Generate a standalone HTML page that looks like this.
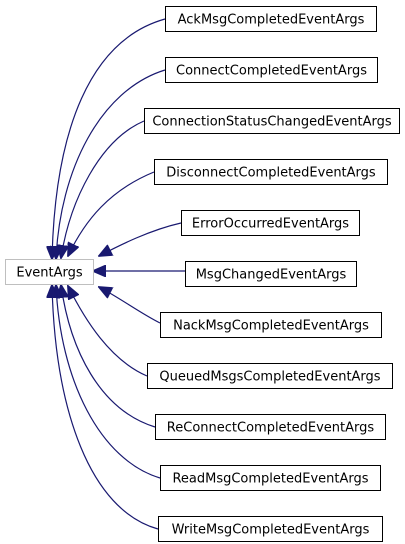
<!DOCTYPE html>
<html><head><style>
body{margin:0;background:#fff;}
svg{display:block}
text{font-family:"DejaVu Sans","Liberation Sans",sans-serif;font-size:13px;fill:#000}
</style></head><body>
<svg width="405" height="544" viewBox="0 0 405 544" xmlns="http://www.w3.org/2000/svg">
<defs>
<marker id="a" markerWidth="14" markerHeight="12" refX="13" refY="6" orient="auto" markerUnits="userSpaceOnUse">
<polygon points="0,0 14,6 0,12" fill="#191970" stroke="#191970"/>
</marker>
</defs>
<g fill="none" stroke="#191970" stroke-width="1.2" marker-end="url(#a)">
<path d="M165,19 C90,40 55,130 52,259"/>
<path d="M165,70 C100,90 60,170 56,259"/>
<path d="M144,121 C100,140 70,200 61,258"/>
<path d="M154,172 C110,190 85,220 68,256"/>
<path d="M181,223 C150,230 120,245 99,256"/>
<path d="M185,271 L93,271"/>
<path d="M160,323 C140,313 120,298 99,287"/>
<path d="M147,376 C110,360 85,320 68,286"/>
<path d="M155,427 C100,410 70,350 61,285"/>
<path d="M160,478 C100,460 60,380 56,285"/>
<path d="M158,529 C90,510 55,410 52,285"/>
</g>
<rect x="5.5" y="259.5" width="88" height="25" fill="#fff" stroke="#bfbfbf"/>
<text x="49.5" y="276.5" text-anchor="middle">EventArgs</text>
<g fill="#fff" stroke="#000">
<rect x="165.5" y="6.5" width="211" height="25"/>
<rect x="165.5" y="57.5" width="212" height="25"/>
<rect x="144.5" y="108.5" width="255" height="25"/>
<rect x="154.5" y="159.5" width="233" height="25"/>
<rect x="181.5" y="210.5" width="178" height="25"/>
<rect x="185.5" y="261.5" width="171" height="25"/>
<rect x="160.5" y="312.5" width="221" height="25"/>
<rect x="147.5" y="363.5" width="245" height="25"/>
<rect x="155.5" y="414.5" width="230" height="25"/>
<rect x="160.5" y="465.5" width="220" height="25"/>
<rect x="158.5" y="516.5" width="224" height="25"/>
</g>
<g text-anchor="middle">
<text x="271" y="23.5">AckMsgCompletedEventArgs</text>
<text x="271.5" y="74.5">ConnectCompletedEventArgs</text>
<text x="272" y="125.5">ConnectionStatusChangedEventArgs</text>
<text x="271" y="176.5">DisconnectCompletedEventArgs</text>
<text x="270.5" y="227.5">ErrorOccurredEventArgs</text>
<text x="271" y="278.5">MsgChangedEventArgs</text>
<text x="271" y="329.5">NackMsgCompletedEventArgs</text>
<text x="270" y="380.5">QueuedMsgsCompletedEventArgs</text>
<text x="270.5" y="431.5">ReConnectCompletedEventArgs</text>
<text x="270.5" y="482.5">ReadMsgCompletedEventArgs</text>
<text x="270.5" y="533.5">WriteMsgCompletedEventArgs</text>
</g>
</svg>
</body></html>
